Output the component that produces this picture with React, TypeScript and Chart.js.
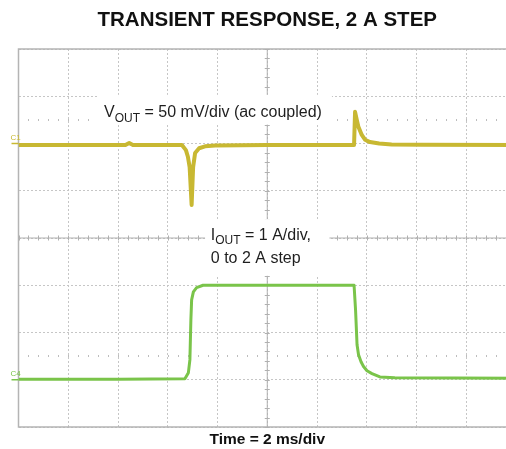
import React, { useEffect, useRef } from 'react';
import { Chart, registerables } from 'chart.js';

Chart.register(...registerables);

// ---- text ----
const TITLE = 'TRANSIENT RESPONSE, 2 A STEP';
const X_TITLE = 'Time = 2 ms/div';
const VOUT_MAIN = 'V';
const VOUT_SUB = 'OUT';
const VOUT_REST = ' = 50 mV/div (ac coupled)';
const IOUT_MAIN = 'I';
const IOUT_SUB = 'OUT';
const IOUT_REST = ' = 1 A/div,';
const IOUT_LINE2 = '0 to 2 A step';
const CH1_LABEL = 'C1';
const CH4_LABEL = 'C4';

// ---- axes (time in ms, 2 ms/div, 10 div; vertical 8 div) ----
const X_MIN = 0;
const X_MAX = 20;
const X_STEP = 2;
const DIV_MIN = 0;
const DIV_MAX = 8;
const VOUT_MIN_MV = -300; // 50 mV/div
const VOUT_MAX_MV = 100;
const IOUT_MIN_A = -1; // 1 A/div
const IOUT_MAX_A = 7;

// ---- series: VOUT (mV, ac coupled) ----
const voutTimeMs = [0, 2.0, 4.3, 4.45, 4.6, 6.57, 6.73, 6.81, 6.88, 6.96, 7.02, 7.1, 7.26, 7.5, 7.9, 10.0, 13.49, 13.53, 13.6, 13.66, 13.8, 13.93, 14.13, 14.5, 15.0, 16.2, 20.0];
const voutMv = [-1.6, -1.6, -1.6, 0.5, -1.6, -1.6, -7, -14, -25, -65, -25, -10, -5, -3, -2, -1.6, -1.6, 33.5, 25, 18, 9, 4, 1.5, 0, -1, -1.3, -1.6];

// ---- series: IOUT (A) ----
const ioutTimeMs = [0, 4.0, 6.69, 6.83, 6.89, 6.93, 6.96, 7.03, 7.16, 7.42, 10.0, 13.49, 13.55, 13.61, 13.67, 13.77, 13.87, 14.01, 14.21, 14.53, 15.13, 20.0];
const ioutA = [0.01, 0.01, 0.02, 0.15, 0.42, 1.27, 1.69, 1.86, 1.95, 2.0, 2.0, 2.0, 1.48, 0.74, 0.53, 0.38, 0.28, 0.19, 0.13, 0.06, 0.04, 0.03];

const VOUT_COLOR = '#c8b832';
const IOUT_COLOR = '#7ac44a';
const GRID_COLOR = '#c6c6c6';
const FRAME_COLOR = '#b4b4b4';
const TEXT_COLOR = '#1e1e1e';
const FONT = '"Liberation Sans", Arial, sans-serif';

const scopeOverlay = {
  id: 'scopeOverlay',
  beforeDatasetsDraw(chart: any) {
    const { ctx, chartArea } = chart;
    const { left, top, right, bottom } = chartArea;
    const x = chart.scales.x;
    const y = chart.scales.y;
    ctx.save();

    // frame
    ctx.strokeStyle = FRAME_COLOR;
    ctx.lineWidth = 1.5;
    ctx.beginPath();
    ctx.moveTo(right, top);
    ctx.lineTo(left, top);
    ctx.lineTo(left, bottom);
    ctx.lineTo(right, bottom);
    ctx.stroke();

    // center crosshair with minor ticks
    const cx = x.getPixelForValue((X_MIN + X_MAX) / 2);
    const cy = y.getPixelForValue((DIV_MIN + DIV_MAX) / 2);
    ctx.strokeStyle = '#b0b0b0';
    ctx.lineWidth = 1;
    ctx.beginPath();
    ctx.moveTo(left, cy);
    ctx.lineTo(right, cy);
    ctx.moveTo(cx, top);
    ctx.lineTo(cx, bottom);
    for (let t = X_MIN; t <= X_MAX + 1e-6; t += X_STEP / 5) {
      const px = Math.round(x.getPixelForValue(t)) + 0.5;
      ctx.moveTo(px, cy - 2.5);
      ctx.lineTo(px, cy + 2.5);
    }
    for (let d = DIV_MIN; d <= DIV_MAX + 1e-6; d += 0.2) {
      const py = Math.round(y.getPixelForValue(d)) + 0.5;
      ctx.moveTo(cx - 2.5, py);
      ctx.lineTo(cx + 2.5, py);
    }
    ctx.stroke();

    // dotted lines at +/- 2.5 div
    ctx.fillStyle = '#bdbdbd';
    [1.5, 6.5].forEach((d) => {
      const py = Math.round(y.getPixelForValue(d));
      for (let t = X_MIN + X_STEP / 5; t < X_MAX; t += X_STEP / 5) {
        const px = Math.round(x.getPixelForValue(t));
        ctx.fillRect(px, py - 1, 1, 2);
      }
    });

    // annotation boxes
    ctx.fillStyle = '#ffffff';
    const vx = x.getPixelForValue(3.18);
    const vy = y.getPixelForValue(7.03);
    ctx.fillRect(vx, vy, x.getPixelForValue(12.6) - vx, y.getPixelForValue(6.4) - vy);
    const ix = x.getPixelForValue(7.5);
    const iy = y.getPixelForValue(4.4);
    ctx.fillRect(ix, iy, x.getPixelForValue(12.5) - ix, y.getPixelForValue(3.2) - iy);

    const drawSub = (px: number, py: number, main: string, sub: string, rest: string) => {
      ctx.fillStyle = TEXT_COLOR;
      ctx.textBaseline = 'alphabetic';
      ctx.textAlign = 'left';
      ctx.font = `16px ${FONT}`;
      ctx.fillText(main, px, py);
      let cur = px + ctx.measureText(main).width;
      ctx.font = `12px ${FONT}`;
      ctx.fillText(sub, cur, py + 4.5);
      cur += ctx.measureText(sub).width;
      ctx.font = `16px ${FONT}`;
      ctx.fillText(rest, cur, py);
    };
    drawSub(x.getPixelForValue(3.44), y.getPixelForValue(6.56), VOUT_MAIN, VOUT_SUB, VOUT_REST);
    const i2x = x.getPixelForValue(7.73);
    drawSub(i2x, y.getPixelForValue(3.96), IOUT_MAIN, IOUT_SUB, IOUT_REST);
    ctx.font = `16px ${FONT}`;
    ctx.fillText(IOUT_LINE2, i2x, y.getPixelForValue(3.48));
    ctx.restore();
  },
  afterDraw(chart: any) {
    const { ctx, chartArea } = chart;
    const left = chartArea.left;
    const marks: [string, string, number][] = [
      [CH1_LABEL, VOUT_COLOR, chart.scales.yV.getPixelForValue(0)],
      [CH4_LABEL, IOUT_COLOR, chart.scales.yI.getPixelForValue(0)],
    ];
    ctx.save();
    marks.forEach(([label, color, py]) => {
      ctx.fillStyle = color;
      ctx.strokeStyle = color;
      ctx.lineWidth = 1.5;
      ctx.beginPath();
      ctx.moveTo(left - 7, py);
      ctx.lineTo(left, py);
      ctx.stroke();
      ctx.font = `8px ${FONT}`;
      ctx.textAlign = 'left';
      ctx.textBaseline = 'alphabetic';
      ctx.fillText(label, left - 8, py - 3.5);
    });
    ctx.restore();
  },
};

export default function App() {
  const ref = useRef<HTMLCanvasElement | null>(null);

  useEffect(() => {
    if (!ref.current) return;
    const chart = new Chart(ref.current, {
      type: 'line',
      data: {
        datasets: [
          {
            label: 'VOUT',
            data: voutTimeMs.map((t, i) => ({ x: t, y: voutMv[i] })),
            borderColor: VOUT_COLOR,
            borderWidth: 4,
            borderJoinStyle: 'round',
            pointRadius: 0,
            tension: 0,
            yAxisID: 'yV',
          },
          {
            label: 'IOUT',
            data: ioutTimeMs.map((t, i) => ({ x: t, y: ioutA[i] })),
            borderColor: IOUT_COLOR,
            borderWidth: 3,
            borderJoinStyle: 'round',
            pointRadius: 0,
            tension: 0,
            yAxisID: 'yI',
          },
        ],
      },
      options: {
        responsive: false,
        animation: false,
        events: [],
        layout: { padding: { left: 18.5, right: 0, top: 0, bottom: 0 } },
        plugins: {
          legend: { display: false },
          tooltip: { enabled: false },
          title: {
            display: true,
            text: TITLE,
            color: '#111111',
            font: { family: FONT, size: 20.5, weight: 'bold' },
            padding: { top: 8, bottom: 16.4 },
          },
        },
        scales: {
          x: {
            type: 'linear',
            min: X_MIN,
            max: X_MAX,
            ticks: { display: false, stepSize: X_STEP },
            grid: { color: GRID_COLOR, lineWidth: 1, drawTicks: false },
            border: { display: false, dash: [2, 2] },
            title: {
              display: true,
              text: X_TITLE,
              color: '#111111',
              font: { family: FONT, size: 15.5, weight: 'bold' },
              padding: { top: 3.4, bottom: 0 },
            },
          },
          y: {
            type: 'linear',
            min: DIV_MIN,
            max: DIV_MAX,
            ticks: { display: false, stepSize: 1 },
            grid: { color: GRID_COLOR, lineWidth: 1, drawTicks: false },
            border: { display: false, dash: [2, 2] },
          },
          yV: { type: 'linear', display: false, min: VOUT_MIN_MV, max: VOUT_MAX_MV },
          yI: { type: 'linear', display: false, min: IOUT_MIN_A, max: IOUT_MAX_A },
        },
      },
      plugins: [scopeOverlay],
    } as any);
    return () => chart.destroy();
  }, []);

  return (
    <div style={{ position: 'fixed', left: 0, top: 0, width: 506, height: 449, overflow: 'hidden', background: '#ffffff' }}>
      <canvas ref={ref} width={516} height={449} style={{ display: 'block', width: 516, height: 449 }} />
    </div>
  );
}
